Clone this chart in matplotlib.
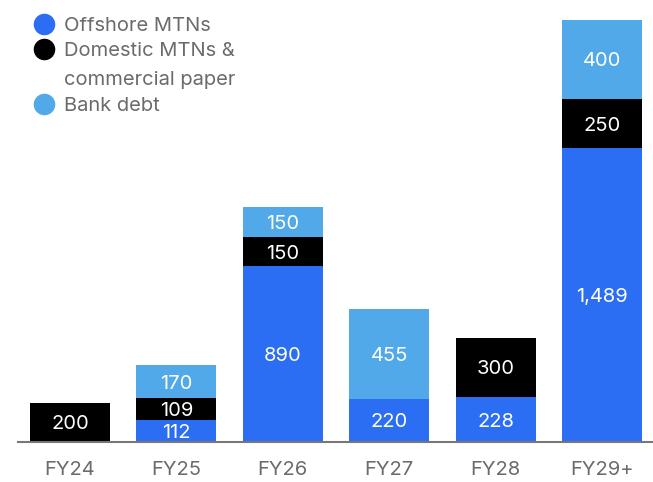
import matplotlib
matplotlib.use("Agg")
import matplotlib.pyplot as plt
from matplotlib.lines import Line2D
import numpy as np

categories = ["FY24", "FY25", "FY26", "FY27", "FY28", "FY29+"]
offshore = [0, 112, 890, 220, 228, 1489]
domestic = [200, 109, 150, 0, 300, 250]
bank = [0, 170, 150, 455, 0, 400]
series_names = ["Offshore MTNs", "Domestic MTNs &\ncommercial paper", "Bank debt"]
colors = ["#2B6EF3", "#000000", "#52A9E9"]

plt.rcParams['font.family'] = ['Inter', 'DejaVu Sans']

fig = plt.figure(figsize=(6.53, 4.82), dpi=100)
W, H = 653, 482
ax = fig.add_axes([18 / W, 40 / H, (653 - 18) / W, 442 / H])

x = np.arange(len(categories))
width = 0.752
bottom = np.zeros(len(categories))
for vals, col in zip([offshore, domestic, bank], colors):
    vals = np.array(vals, dtype=float)
    ax.bar(x, vals, width, bottom=bottom, color=col, linewidth=0)
    for xi, v, b in zip(x, vals, bottom):
        if v > 0:
            ax.text(xi, b + v / 2, f"{int(v):,}", ha="center", va="center_baseline",
                    color="white", fontsize=14.5)
    bottom += vals

ax.set_xlim(-0.489, 5.479)
ax.set_ylim(0, 2240)
ax.set_xticks(x)
ax.set_xticklabels(categories, fontsize=14.5, color="#6b6b6b")
ax.tick_params(axis="x", length=0, pad=14)
ax.set_yticks([])
for s in ["top", "right", "left"]:
    ax.spines[s].set_visible(False)
ax.spines["bottom"].set_color("#777777")
ax.spines["bottom"].set_linewidth(1.5)

# legend
marker_y = [24, 49, 104]
text_lines = [[(24, "Offshore MTNs")],
              [(49, "Domestic MTNs &"), (78, "commercial paper")],
              [(104, "Bank debt")]]
for yy, lines, col in zip(marker_y, text_lines, colors):
    fig.add_artist(Line2D([44 / W], [1 - yy / H], marker="o", markersize=14.5,
                          color=col, linestyle="none", transform=fig.transFigure))
    for ty, t in lines:
        fig.text(64 / W, 1 - ty / H, t, ha="left", va="center_baseline",
                 fontsize=14.5, color="#6b6b6b")

fig.savefig("out.png", dpi=100)
